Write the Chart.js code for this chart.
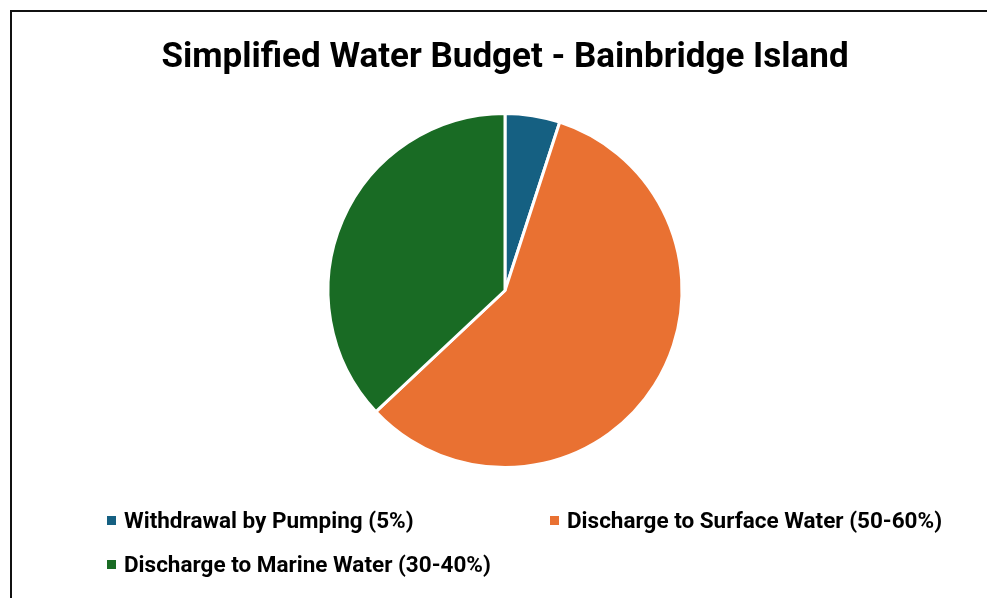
<!DOCTYPE html>
<html>
<head>
<meta charset="utf-8">
<title>Simplified Water Budget - Bainbridge Island</title>
<script src="https://cdn.jsdelivr.net/npm/chart.js@4.4.1/dist/chart.umd.min.js"></script>
<style>
    html, body {
        margin: 0;
        padding: 0;
        width: 987px;
        height: 598px;
        overflow: hidden;
        background: #ffffff;
        font-family: Roboto, "Open Sans", sans-serif;
    }
    #frame {
        position: absolute;
        left: 10px;
        top: 10px;
        width: 1000px;
        height: 620px;
        border: 2px solid #111111;
        box-sizing: border-box;
    }
    #chartBox {
        position: absolute;
        left: 0;
        top: 0;
        width: 987px;
        height: 598px;
    }
    #legend {
        position: absolute;
        left: 0;
        top: 0;
        width: 987px;
        height: 598px;
        pointer-events: none;
    }
    .legend-item {
        position: absolute;
        display: flex;
        align-items: center;
        font-weight: 700;
        font-size: 22.5px;
        line-height: 26px;
        color: #000000;
        white-space: nowrap;
    }
    .legend-swatch {
        width: 9px;
        height: 9px;
        margin-right: 8px;
    }
</style>
</head>
<body>
<div id="frame"></div>
<div id="chartBox"><canvas id="budgetChart" width="987" height="598"></canvas></div>
<div id="legend"></div>

<script>
// ===============================
// DATA
// ===============================
const chartTitle = "Simplified Water Budget - Bainbridge Island";

const categories = [
    "Withdrawal by Pumping (5%)",
    "Discharge to Surface Water (50-60%)",
    "Discharge to Marine Water (30-40%)"
];

// share of the budget, percent
const shares = [5, 58, 37];

const sliceColors = ["#156082", "#E97132", "#196B24"];

// legend grid slots (column, row) for each category
const legendSlots = [[0, 0], [1, 0], [0, 1]];

// ===============================
// PIE
// ===============================
const ctx = document.getElementById("budgetChart").getContext("2d");

const budgetChart = new Chart(ctx, {
    type: "pie",
    data: {
        labels: categories,
        datasets: [{
            data: shares,
            backgroundColor: sliceColors,
            borderColor: "#ffffff",
            borderWidth: 3
        }]
    },
    options: {
        responsive: false,
        animation: false,
        layout: {
            padding: { left: 23, right: 0, top: 0, bottom: 129 }
        },
        plugins: {
            title: {
                display: true,
                text: chartTitle,
                color: "#000000",
                font: { family: "Roboto", size: 35, weight: "bold" },
                padding: { top: 37, bottom: 33 }
            },
            legend: { display: false },
            tooltip: { enabled: false }
        }
    }
});

// ===============================
// LEGEND (two columns)
// ===============================
function buildLegend() {
    const legend = document.getElementById("legend");
    const colX = [107, 550];
    const rowY = [507, 551];

    categories.forEach((name, i) => {
        const [col, row] = legendSlots[i];
        const item = document.createElement("div");
        item.className = "legend-item";
        item.style.left = colX[col] + "px";
        item.style.top = rowY[row] + "px";

        const swatch = document.createElement("span");
        swatch.className = "legend-swatch";
        swatch.style.background = budgetChart.data.datasets[0].backgroundColor[i];

        const text = document.createElement("span");
        text.textContent = name;

        item.appendChild(swatch);
        item.appendChild(text);
        legend.appendChild(item);
    });
}

buildLegend();
</script>
</body>
</html>
